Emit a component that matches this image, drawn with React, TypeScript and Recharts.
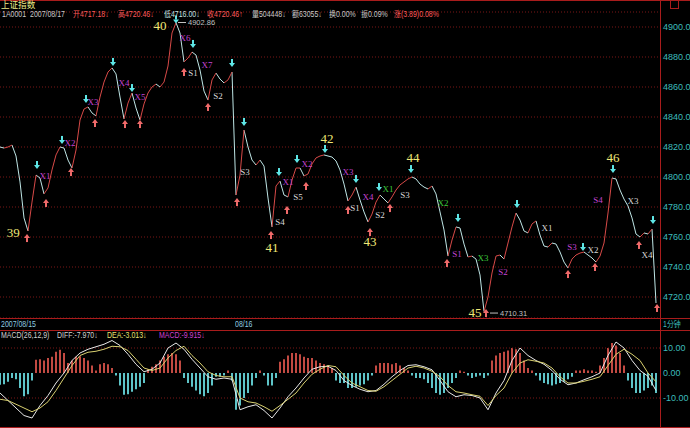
import {
  ComposedChart,
  Line,
  Bar,
  Cell,
  Scatter,
  XAxis,
  YAxis,
  CartesianGrid,
  ReferenceLine,
} from "recharts";

// 1-minute closes, one value per step (step = 4px on the original screen)
const price = [
  4820.0, 4819.3, 4820.0, 4821.3, 4814.0, 4796.7, 4772.7, 4764.0, 4783.3, 4801.3,
  4799.3, 4788.7, 4792.7, 4804.7, 4814.7, 4820.0, 4819.3, 4811.3, 4806.0, 4818.0,
  4838.0, 4845.3, 4846.7, 4842.7, 4840.7, 4853.3, 4863.3, 4870.0, 4872.7, 4868.7,
  4853.3, 4838.7, 4849.3, 4856.0, 4846.0, 4838.0, 4848.7, 4856.0, 4860.0, 4862.0,
  4860.0, 4863.3, 4874.0, 4896.0, 4902.86, 4896.0, 4876.7, 4879.3, 4883.3, 4881.3,
  4871.3, 4857.3, 4851.3, 4864.7, 4869.3, 4865.3, 4862.7, 4864.7, 4870.0, 4788.0,
  4801.3, 4831.3, 4820.0, 4811.3, 4808.0, 4811.3, 4807.3, 4786.0, 4766.7, 4794.0,
  4797.3, 4788.0, 4786.7, 4798.0, 4806.0, 4806.0, 4800.7, 4802.0, 4808.7, 4812.7,
  4814.0, 4814.7, 4814.0, 4813.3, 4810.7, 4804.7, 4795.3, 4784.0, 4788.0, 4793.3,
  4784.7, 4776.7, 4770.0, 4775.3, 4783.3, 4788.0, 4785.3, 4782.7, 4786.7, 4791.3,
  4794.7, 4796.7, 4798.7, 4800.0, 4798.7, 4795.3, 4793.3, 4792.0, 4794.0, 4788.7,
  4776.7, 4764.7, 4747.3, 4758.0, 4766.7, 4766.0, 4755.3, 4746.7, 4747.3, 4745.3,
  4734.7, 4710.31, 4720.0, 4736.0, 4747.3, 4748.0, 4745.3, 4756.0, 4766.7, 4776.0,
  4771.3, 4764.0, 4762.7, 4768.7, 4770.7, 4761.3, 4754.0, 4753.3, 4756.0, 4755.3,
  4750.0, 4743.3, 4739.3, 4745.3, 4748.0, 4749.3, 4750.0, 4748.0, 4746.0, 4743.3,
  4747.3, 4756.0, 4776.0, 4799.3, 4798.7, 4791.3, 4785.3, 4780.7, 4772.7, 4762.0,
  4760.0, 4762.7, 4762.0, 4765.3, 4716.0,
];
const priceTicks = [4720, 4740, 4760, 4780, 4800, 4820, 4840, 4860, 4880, 4900];

const macdHist = [
  -4.7, -4.5, -3.5, -2, -2.5, -6, -9.3, -8.5, -3, 5.3,
  5.5, 5, 6, 6.5, 8.5, 9.3, 8, 4, 5, 6.5,
  6.7, 6, 5, 3, 1, 3.5, 4, 3.5, 2, -1,
  -5, -8.7, -8.5, -7.5, -6.5, -5.5, -4, 1.5, 2.5, 3.5,
  5, 6.5, 7.5, 8, 7.5, 5, -2, -4, -5.5, -7,
  -8.5, -9.3, -8, -5, -1.5, -1.5, -1, 1, -3, -14.7,
  -13, -10, -8, -5, -2, 1, -1, -5, -5, -2,
  4.5, 5.5, 7, 8, 8, 7.5, 6.5, 6, 6, 5,
  4, 3.5, 3, 2, -3, -4, -4, -6, -6, -5.5,
  -5, -4.5, -3, -1, 3, 4, 4, 4, 3.5, 4,
  3, 2, 1, -1, -2, -2, -2.5, -4, -6, -8,
  -8.7, -8, -6, -4, -2, 1, 0.5, -1, -2, -1.5,
  -1, -2, -1, 5, 7, 8, 8.5, 9, 10, 9.5,
  8, 5, 2, 1, -1, -3, -4, -4.5, -5, -4.5,
  -4, -3.5, -2.5, -1.5, 1, 1, 1.5, 1, 1, 0.5,
  3, 6, 10, 12, 11, 8, 3, -3, -6, -8,
  -8, -7, -6, -5, -8,
];
// DIFF and DEA, read every second step
const diffLine = [
  -8, -11, -14, -17, -18, -13, -9, -4, 0, 5,
  8, 9.5, 10.5, 11.5, 13, 11, 7.5, 3.5, 0.5, 1.5,
  4, 10, 12, 9.5, 5.5, 2, -1.5, -2.5, -2, -2.5,
  -14.7, -13.5, -12.7, -15, -18, -14, -9.5, -6, -2, 1.5,
  2.5, 2.7, 1, -3, -5, -6.5, -7.5, -7, -4.5, -1.5,
  1, 3, 3.3, 2.5, 1.3, -3, -7.5, -9.5, -8.7, -9,
  -10, -14.7, -8, -3, 5, 10, 7, 5, 3.5, 1,
  -2.5, -4.7, -4, -2.7, -1.5, 0, 7, 12.4, 10, 5,
  1, -1.3, -7,
];
const deaLine = [
  -10.5, -11, -12.5, -14, -15.5, -14, -11.5, -7, -2, 3,
  7, 8.3, 8.7, 9.5, 10.7, 10.5, 9, 5.5, 2, 1,
  2, 6, 9, 10.7, 7, 4, 0.5, -1, -1.5, -1.5,
  -10, -11.5, -12, -13.5, -15.3, -13, -10.5, -8, -4, -0.5,
  1.5, 3, 2.5, -1, -4, -5.5, -7, -7.3, -5.5, -3,
  -0.5, 2, 2.7, 2, 0.7, -1.5, -5, -7.5, -8, -8.7,
  -9.3, -13, -9, -6, 0, 4, 5.3, 4.7, 4, 2,
  -1.5, -4, -4, -3.3, -2.5, -1.5, 3, 7.5, 9.5, 7.5,
  5, 0, -3.5,
];
const macdTicks = [-10, 0, 10];

// signal marks: [step, price]
const sellArrows = [
  [9.25, 4808], [15.5, 4824.7], [21.5, 4852], [28.25, 4876.7], [33, 4859.3],
  [44, 4905], [48.25, 4888.7], [58, 4876], [61, 4836.7], [69.75, 4803.3],
  [74.25, 4812], [81.25, 4818.7], [89, 4798.7], [94.75, 4793.3], [102.75, 4805.3],
  [114.5, 4772.7], [129.25, 4782], [145.75, 4753.3], [153.25, 4805.3], [163.25, 4771.3],
];
const buyArrows = [
  [6.75, 4759.3], [11.5, 4782.7], [17.75, 4803.3], [23.75, 4836], [31.25, 4835.3],
  [35, 4835.3], [46, 4870], [52, 4846.7], [59.25, 4783.3], [67.75, 4761.3],
  [71.75, 4778], [76.5, 4794], [87, 4778], [92.5, 4763.3], [97.5, 4779.3],
  [111.75, 4742.7], [121.5, 4709.3], [142, 4735.3], [148.75, 4740], [159.75, 4754.7],
  [164.25, 4712.7],
];
const waveNumbers: [number, number, string][] = [
  [3.3, 4762.7, "39"], [40, 4901.3, "40"], [68, 4753.3, "41"], [81.75, 4826, "42"],
  [92.5, 4756.7, "43"], [103.25, 4812.7, "44"], [118.75, 4710, "45"], [153.25, 4813.3, "46"],
];
// m = magenta, w = white, g = green
const signalTags: [number, number, string, string][] = [
  [11.25, 4800.7, "X1", "m"], [17.5, 4822.7, "X2", "m"], [23.25, 4850, "X3", "m"],
  [31, 4862.7, "X4", "m"], [35, 4853.3, "X5", "m"], [46.25, 4892.7, "X6", "m"],
  [51.75, 4874.7, "X7", "m"], [48.25, 4869.3, "S1", "w"], [54.5, 4854, "S2", "w"],
  [61.25, 4803.3, "S3", "w"], [70, 4770, "S4", "w"], [72, 4796.7, "X1", "m"],
  [74.5, 4786.7, "S5", "w"], [76.75, 4808.7, "X2", "m"], [87, 4803.3, "X3", "m"],
  [88.75, 4779.3, "S1", "w"], [92, 4786.7, "X4", "m"], [95, 4774.7, "S2", "w"],
  [97, 4792, "X1", "g"], [101.25, 4788, "S3", "w"], [110.75, 4782.7, "X2", "g"],
  [114.25, 4748.7, "S1", "m"], [120.75, 4746, "X3", "g"], [125.75, 4736.7, "S2", "m"],
  [136.75, 4766, "X1", "w"], [143, 4753.3, "S3", "m"], [148.25, 4751.3, "X2", "w"],
  [149.5, 4784.7, "S4", "m"], [158.25, 4784, "X3", "w"], [161.75, 4748, "X4", "w"],
];
const extremeLabels: [number, number, string][] = [
  [44.5, 4903, "4902.86"],
  [122.5, 4709.3, "4710.31"],
];

const headerPieces: [number, string, string][] = [
  [2, "1A0001", "#c8c8c8"],
  [30, "2007/08/17", "#c8c8c8"],
  [73, "开4717.18↓", "#ff5a5a"],
  [118, "高4720.46↓", "#ff5a5a"],
  [164, "低4716.00↓", "#c0e0e0"],
  [207, "收4720.46↑", "#ff5a5a"],
  [252, "量504448↓", "#c8c8c8"],
  [292, "额63055↓", "#c8c8c8"],
  [329, "换0.00%", "#c8c8c8"],
  [361, "振0.09%", "#c8c8c8"],
  [394, "涨(3.89)0.08%", "#ff5a5a"],
];
const macdHeader: [number, string, string][] = [
  [1, "MACD(26,12,9)", "#d0d0d0"],
  [57, "DIFF:-7.970↓", "#d0d0d0"],
  [107, "DEA:-3.013↓", "#e8e070"],
  [159, "MACD:-9.915↓", "#d040d0"],
];

const UP = "#d84a48";
const DOWN = "#bfe6e6";
const BORDER = "#a81c1c";
const AXIS_TEXT = "#3cbcbc";
const TAG_COLORS: Record<string, string> = { m: "#c444d4", w: "#d8d8d8", g: "#3cc83c" };
const FONT = "'Liberation Sans', 'Noto Sans CJK SC', sans-serif";

type Row = { t: number; v: number; [k: string]: number | null };
const rows: Row[] = price.map((v, t) => ({ t, v, upA: null, upB: null, dnA: null, dnB: null }));
let prevDir = 0;
let upRuns = 0;
let dnRuns = 0;
for (let i = 1; i < price.length; i++) {
  const dir = price[i] >= price[i - 1] ? 1 : -1;
  if (dir !== prevDir) {
    if (dir > 0) upRuns++;
    else dnRuns++;
    prevDir = dir;
  }
  const key = dir > 0 ? (upRuns % 2 ? "upA" : "upB") : dnRuns % 2 ? "dnA" : "dnB";
  rows[i - 1][key] = price[i - 1];
  rows[i][key] = price[i];
}

const macdRows = macdHist.map((h, t) => ({
  t,
  h,
  diff: t % 2 === 0 ? diffLine[t / 2] : null,
  dea: t % 2 === 0 ? deaLine[t / 2] : null,
}));

const toPts = (list: number[][]) => list.map(([t, v]) => ({ t, v }));

const SellArrow = (p: any) => {
  const { cx, cy } = p;
  return (
    <g fill="#5ee6e6">
      <rect x={cx - 1} y={cy - 4} width={2} height={4} />
      <polygon points={`${cx - 3},${cy} ${cx + 3},${cy} ${cx},${cy + 4}`} />
    </g>
  );
};

const BuyArrow = (p: any) => {
  const { cx, cy } = p;
  return (
    <g fill="#f06a6a">
      <polygon points={`${cx - 3},${cy} ${cx + 3},${cy} ${cx},${cy - 4}`} />
      <rect x={cx - 1} y={cy} width={2} height={4} />
    </g>
  );
};

const WaveNumber = (p: any) => (
  <text
    x={p.cx}
    y={p.cy}
    textAnchor="middle"
    dominantBaseline="central"
    fontFamily="'Liberation Serif', serif"
    fontSize={13}
    fill="#f0e878"
  >
    {p.payload.label}
  </text>
);

const Tag = (p: any) => (
  <text
    x={p.cx}
    y={p.cy}
    textAnchor="middle"
    dominantBaseline="central"
    fontFamily="'Liberation Serif', serif"
    fontSize={9}
    fill={TAG_COLORS[p.payload.c]}
  >
    {p.payload.label}
  </text>
);

const Extreme = (p: any) => (
  <g>
    <line x1={p.cx} y1={p.cy} x2={p.cx + 8} y2={p.cy} stroke="#c0c0c0" strokeWidth={1} />
    <text x={p.cx + 10} y={p.cy} dominantBaseline="central" fontFamily={FONT} fontSize={7.5} fill="#c0c0c0">
      {p.payload.label}
    </text>
  </g>
);

const hLine = (top: number) => (
  <div key={top} style={{ position: "absolute", left: 0, top, width: 690, height: 1, background: BORDER }} />
);

// bitmap-style narrow text: taller glyphs squeezed horizontally
const textAt = (x: number, y: number, text: string, color: string, size = 8.5, squeeze = 0.82) => (
  <span
    key={`${x}-${y}-${text}`}
    style={{
      position: "absolute",
      left: x,
      top: y,
      color,
      fontSize: size,
      lineHeight: `${size + 1}px`,
      whiteSpace: "nowrap",
      fontFamily: FONT,
      transform: `scaleX(${squeeze})`,
      transformOrigin: "left top",
    }}
  >
    {text}
  </span>
);

export default function App() {
  return (
    <div style={{ position: "relative", width: 690, height: 428, background: "#000", overflow: "hidden" }}>
      <style>{"body{margin:0;background:#000}"}</style>

      <div style={{ position: "absolute", left: 0, top: 0 }}>
        <ComposedChart width={690} height={318} data={rows} margin={{ top: 12, right: 0, bottom: 0, left: 0 }}>
          <CartesianGrid vertical={false} stroke="#7a1616" strokeDasharray="1 2" />
          <XAxis dataKey="t" type="number" domain={[0, 165]} hide />
          <YAxis
            orientation="right"
            domain={[4706, 4910]}
            ticks={priceTicks}
            width={30}
            axisLine={false}
            tickLine={false}
            tickSize={2}
            tickMargin={1}
            tick={{ fill: AXIS_TEXT, fontSize: 9, fontFamily: FONT }}
            tickFormatter={(v: number) => v.toFixed(1)}
          />
          {["dnA", "dnB"].map((k) => (
            <Line key={k} dataKey={k} stroke={DOWN} strokeWidth={1} dot={false} type="linear" isAnimationActive={false} />
          ))}
          {["upA", "upB"].map((k) => (
            <Line key={k} dataKey={k} stroke={UP} strokeWidth={1} dot={false} type="linear" isAnimationActive={false} />
          ))}
          <Scatter data={toPts(sellArrows)} dataKey="v" shape={SellArrow} isAnimationActive={false} />
          <Scatter data={toPts(buyArrows)} dataKey="v" shape={BuyArrow} isAnimationActive={false} />
          <Scatter
            data={waveNumbers.map(([t, v, label]) => ({ t, v, label }))}
            dataKey="v"
            shape={WaveNumber}
            isAnimationActive={false}
          />
          <Scatter
            data={signalTags.map(([t, v, label, c]) => ({ t, v, label, c }))}
            dataKey="v"
            shape={Tag}
            isAnimationActive={false}
          />
          <Scatter
            data={extremeLabels.map(([t, v, label]) => ({ t, v, label }))}
            dataKey="v"
            shape={Extreme}
            isAnimationActive={false}
          />
        </ComposedChart>
      </div>

      <div style={{ position: "absolute", left: 0, top: 330 }}>
        <ComposedChart width={690} height={97} data={macdRows} margin={{ top: 0, right: 0, bottom: 0, left: 0 }}>
          <XAxis dataKey="t" type="number" domain={[0, 165]} hide />
          <YAxis
            orientation="right"
            domain={[-21.6, 17.2]}
            ticks={macdTicks}
            width={30}
            axisLine={false}
            tickLine={false}
            tickSize={2}
            tickMargin={1}
            tick={{ fill: AXIS_TEXT, fontSize: 9, fontFamily: FONT }}
            tickFormatter={(v: number) => v.toFixed(2)}
          />
          <ReferenceLine y={10} stroke="#7a1616" strokeDasharray="1 2" />
          <ReferenceLine y={-10} stroke="#7a1616" strokeDasharray="1 2" />
          <Bar dataKey="h" barSize={2} isAnimationActive={false}>
            {macdRows.map((r) => (
              <Cell key={r.t} fill={r.h >= 0 ? "#c24a42" : "#5ec4c8"} />
            ))}
          </Bar>
          <Line dataKey="diff" stroke="#e8e8e8" strokeWidth={1} dot={false} connectNulls isAnimationActive={false} />
          <Line dataKey="dea" stroke="#d8d070" strokeWidth={1} dot={false} connectNulls isAnimationActive={false} />
        </ComposedChart>
      </div>

      {[0, 318, 330, 427].map(hLine)}
      <div style={{ position: "absolute", left: 660, top: 0, width: 1, height: 428, background: BORDER }} />
      <div style={{ position: "absolute", left: 670, top: 0, width: 7, height: 7, border: `1px solid ${BORDER}` }} />

      {textAt(1, 0, "上证指数", "#eaea8a", 9.5, 0.9)}
      {headerPieces.map(([x, t, c]) => textAt(x, 10, t, c))}
      {textAt(1, 320, "2007/08/15", "#8ccce0")}
      {textAt(235, 320, "08/16", "#8ccce0")}
      {textAt(663, 320, "1分钟", AXIS_TEXT)}
      {macdHeader.map(([x, t, c]) => textAt(x, 331, t, c))}
    </div>
  );
}
